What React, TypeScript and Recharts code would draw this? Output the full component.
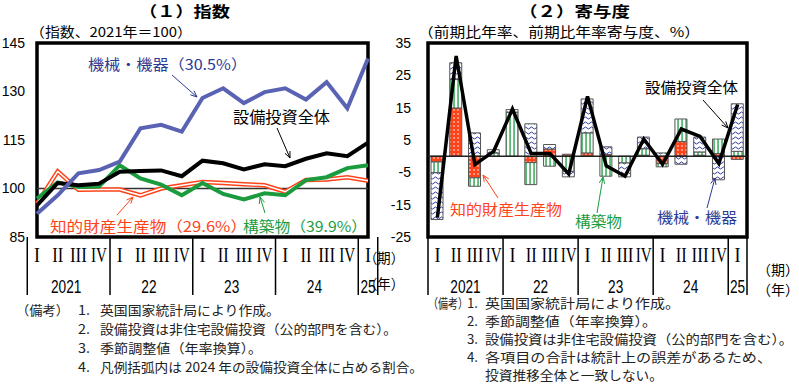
import React from "react";
import {
  LineChart,
  Line,
  ComposedChart,
  Bar,
  XAxis,
  YAxis,
  ReferenceLine,
  ReferenceArea,
} from "recharts";

// 2021Q1 .. 2025Q1
const quarters = [
  "2021Q1", "2021Q2", "2021Q3", "2021Q4",
  "2022Q1", "2022Q2", "2022Q3", "2022Q4",
  "2023Q1", "2023Q2", "2023Q3", "2023Q4",
  "2024Q1", "2024Q2", "2024Q3", "2024Q4",
  "2025Q1",
];
const romans = ["I", "II", "III", "IV"];
const romanWidths = [6, 11, 17, 16];
const years = ["2021", "22", "23", "24", "25"];

// (1) index, 2021 = 100
const machineryIdx = [92.2, 97.9, 104.7, 105.7, 108.3, 118.6, 119.7, 117.6, 128.0, 131.0, 126.4, 129.8, 131.0, 127.5, 132.9, 124.8, 140.2];
const totalIdx = [94.8, 101.7, 101.0, 101.5, 105.2, 105.4, 105.6, 103.8, 108.6, 107.8, 105.9, 107.5, 106.9, 109.2, 110.9, 110.0, 114.2];
const structuresIdx = [96.9, 101.9, 100.5, 100.6, 107.2, 103.1, 101.2, 97.9, 101.7, 98.3, 96.6, 98.5, 97.9, 102.6, 103.5, 106.3, 107.2];
const ippIdx = [95.2, 105.3, 99.6, 99.7, 99.7, 97.9, 100.0, 101.0, 102.0, 101.7, 101.3, 101.0, 99.0, 102.6, 102.8, 103.5, 102.4];
const leftTicks = [85, 100, 115, 130, 145];

// (2) contributions, % q/q annualised
const ippC = [-1.8, 14.9, -6.7, 0, 0, -2.0, 2.2, 0.6, 1.0, 0.5, 0, 0.3, -2.3, 4.5, 0.3, 0.8, -1.0];
const structuresC = [-3.3, 8.8, -2.6, 1.0, 13.6, -6.8, -3.1, -4.7, 6.2, -6.2, -2.1, 2.0, -1.0, 7.0, 1.0, 4.5, 1.5];
const machineryC = [-14.5, 5.2, 7.2, 1.0, 0.8, 10.0, 1.4, -1.7, 10.5, 2.4, -4.3, 3.6, 1.0, -2.5, 4.6, -7.3, 14.7];
const totalC = [-19.0, 31.0, -2.6, 1.5, 14.6, 0.8, 0.8, -5.5, 18.5, -3.0, -6.2, 5.3, -2.5, 8.4, 6.1, -2.3, 16.0];
const rightTicks = [35, 25, 15, 5, -5, -15, -25];

const leftData = quarters.map((q, i) => ({
  q,
  machinery: machineryIdx[i],
  total: totalIdx[i],
  structures: structuresIdx[i],
  ipp: ippIdx[i],
}));

const rightData = quarters.map((q, i) => ({
  q,
  ipp: ippC[i],
  structures: structuresC[i],
  machinery: machineryC[i],
  total: totalC[i],
}));

const BLUE_LINE = "#5a63b3";
const BLUE_TEXT = "#2d3992";
const RED = "#ff4318";
const GREEN = "#1a9c3e";
const JP = "'Noto Sans CJK JP', 'Noto Sans', sans-serif";

function makeTick(half: number) {
  return (props: any) => {
    const { x, y, payload } = props;
    const i: number = payload.index;
    const q = i % 4;
    const yr = Math.floor(i / 4);
    const full = (yr + 1) * 4 <= quarters.length;
    const yearX = full ? x + 3 * half : x;
    const last = i === quarters.length - 1;
    return (
      <g>
        <text
          x={x}
          y={y + 25}
          textAnchor="middle"
          fontFamily="'Liberation Serif', serif"
          fontSize={21}
          textLength={romanWidths[q]}
          lengthAdjust="spacingAndGlyphs"
          fill="#000"
        >
          {romans[q]}
        </text>
        {q === 0 && (
          <line x1={x - half} x2={x - half} y1={y} y2={y + 58} stroke="#000" strokeWidth={1.5} />
        )}
        {last && (
          <line x1={x + half} x2={x + half} y1={y} y2={y + 58} stroke="#000" strokeWidth={1.5} />
        )}
        {q === 0 && (
          <text
            x={yearX}
            y={y + 56}
            textAnchor="middle"
            fontFamily="'Liberation Sans', sans-serif"
            fontSize={19}
            textLength={years[yr].length * 7.6}
            lengthAdjust="spacingAndGlyphs"
            fill="#000"
          >
            {years[yr]}
          </text>
        )}
      </g>
    );
  };
}

function Arrow({ x1, y1, x2, y2, color }: { x1: number; y1: number; x2: number; y2: number; color: string }) {
  const a = Math.atan2(y2 - y1, x2 - x1);
  const h = 7;
  const p1 = [x2 - h * Math.cos(a - 0.4), y2 - h * Math.sin(a - 0.4)];
  const p2 = [x2 - h * Math.cos(a + 0.4), y2 - h * Math.sin(a + 0.4)];
  return (
    <g stroke={color} strokeWidth={1} fill="none">
      <line x1={x1} y1={y1} x2={x2} y2={y2} />
      <polyline points={`${p1[0]},${p1[1]} ${x2},${y2} ${p2[0]},${p2[1]}`} />
    </g>
  );
}

function T({ x, y, len, size = 13, color = "#222", weight = "normal", children }: any) {
  return (
    <text
      x={x}
      y={y}
      fontSize={size}
      fill={color}
      fontFamily={JP}
      fontWeight={weight}
      textLength={len}
      lengthAdjust="spacingAndGlyphs"
    >
      {children}
    </text>
  );
}

const leftNotes = [
  "英国国家統計局により作成。",
  "設備投資は非住宅設備投資（公的部門を含む）。",
  "季節調整値（年率換算）。",
  "凡例括弧内は 2024 年の設備投資全体に占める割合。",
];
const leftNoteLens = [180, 297, 162, 323];
const leftNoteY = [315, 334, 353, 372];

const rightNotes = [
  "英国国家統計局により作成。",
  "季節調整値（年率換算）。",
  "設備投資は非住宅設備投資（公的部門を含む）。",
  "各項目の合計は統計上の誤差があるため、",
  "投資推移全体と一致しない。",
];
const rightNoteLens = [195, 172, 308, 287, 178];
const rightNoteY = [308, 326, 344, 362, 380];
const numerals = ["1.", "2.", "3.", "4."];

export default function App() {
  const leftHalf = (368 - 37) / quarters.length / 2;
  const rightHalf = (747 - 428) / quarters.length / 2;
  const tickStyle = { fontSize: 14, fill: "#000", fontFamily: "'Liberation Sans', sans-serif" };

  return (
    <div style={{ position: "absolute", left: 0, top: 0, width: 799, height: 390, background: "#fff", overflow: "hidden" }}>
      <svg width={0} height={0} style={{ position: "absolute" }}>
        <defs>
          <pattern id="dots" width="4" height="4" patternUnits="userSpaceOnUse">
            <rect width="4" height="4" fill={RED} />
            <circle cx="2" cy="2" r="0.8" fill="#fff" />
          </pattern>
          <pattern id="vstripes" width="4" height="4" patternUnits="userSpaceOnUse">
            <rect width="4" height="4" fill="#fff" />
            <rect x="1.4" width="1.3" height="4" fill={GREEN} />
          </pattern>
          <pattern id="waves" width="6" height="5" patternUnits="userSpaceOnUse">
            <rect width="6" height="5" fill="#fff" />
            <path d="M0 3 Q1.5 1 3 3 T6 3" stroke="#2b3aa0" strokeWidth="1" fill="none" />
          </pattern>
        </defs>
      </svg>

      <div style={{ position: "absolute", left: 0, top: 0 }}>
        <LineChart width={380} height={300} data={leftData} margin={{ top: 43, right: 12, bottom: 0, left: 0 }}>
          <XAxis
            dataKey="q"
            interval={0}
            height={63}
            tickLine={false}
            axisLine={false}
            tickSize={0}
            tickMargin={0}
            tick={makeTick(leftHalf)}
          />
          <YAxis
            width={37}
            domain={[85, 145]}
            ticks={leftTicks}
            tickLine={false}
            axisLine={false}
            tickSize={0}
            tickMargin={12}
            tick={tickStyle}
          />
          <ReferenceLine y={100} stroke="#333" strokeWidth={1.5} />
          <Line dataKey="ipp" stroke={RED} strokeWidth={4.5} dot={false} isAnimationActive={false} strokeLinejoin="miter" />
          <Line dataKey="ipp" stroke="#fff" strokeWidth={1.6} dot={false} isAnimationActive={false} strokeLinejoin="miter" />
          <Line dataKey="structures" stroke={GREEN} strokeWidth={4} dot={false} isAnimationActive={false} strokeLinejoin="miter" />
          <Line dataKey="total" stroke="#000" strokeWidth={4} dot={false} isAnimationActive={false} strokeLinejoin="miter" />
          <Line dataKey="machinery" stroke={BLUE_LINE} strokeWidth={4} dot={false} isAnimationActive={false} strokeLinejoin="miter" />
          <ReferenceArea y1={85} y2={145} fill="none" stroke="#000" strokeWidth={3.5} />
        </LineChart>
      </div>

      <div style={{ position: "absolute", left: 380, top: 0 }}>
        <ComposedChart
          width={419}
          height={300}
          data={rightData}
          stackOffset="sign"
          margin={{ top: 43, right: 52, bottom: 0, left: 0 }}
        >
          <XAxis
            dataKey="q"
            interval={0}
            height={63}
            tickLine={false}
            axisLine={false}
            tickSize={0}
            tickMargin={0}
            tick={makeTick(rightHalf)}
          />
          <YAxis
            width={48}
            domain={[-25, 35]}
            ticks={rightTicks}
            tickLine={false}
            axisLine={false}
            tickSize={0}
            tickMargin={17}
            tick={tickStyle}
          />
          <Bar dataKey="ipp" stackId="a" barSize={12} fill="url(#dots)" stroke="#555" strokeWidth={1} isAnimationActive={false} />
          <Bar dataKey="structures" stackId="a" barSize={12} fill="url(#vstripes)" stroke="#555" strokeWidth={1} isAnimationActive={false} />
          <Bar dataKey="machinery" stackId="a" barSize={12} fill="url(#waves)" stroke="#555" strokeWidth={1} isAnimationActive={false} />
          <ReferenceLine y={0} stroke="#222" strokeWidth={1.5} />
          <Line dataKey="total" stroke="#000" strokeWidth={3.5} dot={false} isAnimationActive={false} strokeLinejoin="miter" />
          <ReferenceArea y1={-25} y2={35} fill="none" stroke="#000" strokeWidth={3.5} />
        </ComposedChart>
      </div>

      <svg width={799} height={390} style={{ position: "absolute", left: 0, top: 0, pointerEvents: "none" }}>
        {/* titles */}
        <T x={139} y={17} len={91} size={15} color="#000" weight="bold">（１）指数</T>
        <T x={519} y={17} len={111} size={15} color="#000" weight="bold">（２）寄与度</T>
        <T x={30} y={36.5} len={162} size={13.5} color="#000">（指数、2021年＝100）</T>
        <T x={418} y={37} len={282} size={13.5} color="#000">（前期比年率、前期比年率寄与度、%）</T>

        {/* left labels */}
        <T x={88} y={70} len={159} size={14.5} color={BLUE_TEXT}>機械・機器（30.5%）</T>
        <Arrow x1={172} y1={75} x2={197} y2={97} color={BLUE_TEXT} />
        <T x={233} y={123} len={97} size={15.5} color="#000">設備投資全体</T>
        <Arrow x1={277} y1={128} x2={290} y2={158} color="#000" />
        <T x={50} y={232} len={197} size={14.5} color={RED}>知的財産生産物（29.6%）</T>
        <Arrow x1={117} y1={215} x2={133} y2={197} color={RED} />
        <T x={243} y={232} len={124} size={14.5} color={GREEN}>構築物（39.9%）</T>
        <Arrow x1={265} y1={213} x2={260} y2={197} color={GREEN} />

        {/* right labels */}
        <T x={645} y={93} len={93} size={15} color="#000">設備投資全体</T>
        <Arrow x1={703} y1={100} x2={728} y2={128} color="#000" />
        <T x={450} y={215} len={112} size={14.5} color={RED}>知的財産生産物</T>
        <Arrow x1={498} y1={198} x2={483} y2={175} color={RED} />
        <T x={575} y={227} len={47} size={14.5} color={GREEN}>構築物</T>
        <Arrow x1={597} y1={213} x2={603} y2={177} color={GREEN} />
        <T x={657} y={223} len={80} size={14.5} color={BLUE_TEXT}>機械・機器</T>
        <Arrow x1={707} y1={208} x2={715} y2={178} color={BLUE_TEXT} />

        {/* period / year unit labels */}
        <T x={364} y={263} len={40} size={14} color="#000">（期）</T>
        <T x={364} y={289} len={40} size={14} color="#000">（年）</T>
        <T x={757} y={275} len={42} size={14} color="#000">（期）</T>
        <T x={757} y={295} len={42} size={14} color="#000">（年）</T>

        {/* notes */}
        <T x={16} y={leftNoteY[0]} len={53}>（備考）</T>
        {leftNotes.map((s, i) => (
          <g key={"l" + i}>
            <T x={78} y={leftNoteY[i]} len={12}>{numerals[i]}</T>
            <T x={100} y={leftNoteY[i]} len={leftNoteLens[i]}>{s}</T>
          </g>
        ))}
        <T x={428} y={rightNoteY[0]} len={40}>（備考）</T>
        {rightNotes.map((s, i) => (
          <g key={"r" + i}>
            {i < 4 && <T x={467} y={rightNoteY[i]} len={11}>{numerals[i]}</T>}
            <T x={485} y={rightNoteY[i]} len={rightNoteLens[i]}>{s}</T>
          </g>
        ))}
      </svg>
    </div>
  );
}
